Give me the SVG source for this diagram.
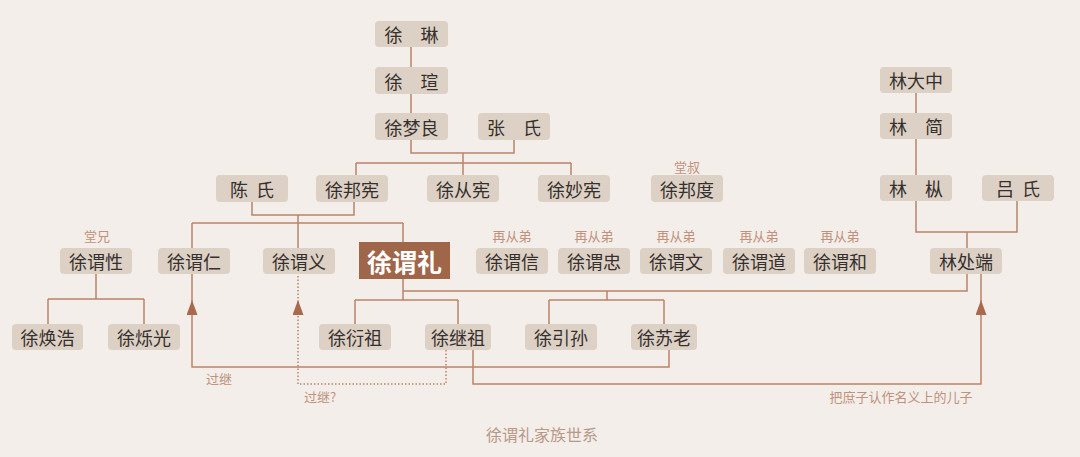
<svg xmlns="http://www.w3.org/2000/svg" width="1080" height="457" viewBox="0 0 1080 457">
<defs>
<style>
.bg{fill:#f3eeea}
.box{fill:#ddd0c5}
.t{font-family:"Noto Sans CJK SC","Noto Sans",sans-serif;font-size:18px;font-weight:normal;fill:#35302d;text-anchor:middle;dominant-baseline:central}
.main{fill:#9f664a}
.tm{font-family:"Noto Sans CJK SC","Noto Sans",sans-serif;font-size:25px;font-weight:bold;fill:#ffffff;text-anchor:middle;dominant-baseline:central}
.lb{font-family:"Noto Sans CJK SC","Noto Sans",sans-serif;font-size:13px;fill:#c1917a;text-anchor:middle;dominant-baseline:central}
.ln{fill:none;stroke:#b9856a;stroke-width:1.5}
.dot{fill:none;stroke:#b9856a;stroke-width:1.5;stroke-dasharray:1.5 2}
.title{font-family:"Noto Sans CJK SC","Noto Sans",sans-serif;font-size:16px;fill:#b89888;text-anchor:middle;dominant-baseline:central}
</style>
<marker id="arr" viewBox="0 0 15 11" refX="15" refY="5.5" markerWidth="15" markerHeight="11" markerUnits="userSpaceOnUse" orient="auto">
<path d="M0 0 L15 5.5 L0 11 Z" fill="#a8694d"/>
</marker>
</defs>
<rect class="bg" x="0" y="0" width="1080" height="457"/>

<g id="connectors">
<path class="ln" d="M411 47V67M411 94V113M411 140V153H514V140M463 153V163M356 163H571M356 163V175M463 163V175M571 163V175"/>
<path class="ln" d="M252 202V215H354V202M298 215V223M192 223H403M192 223V248M298 223V248M403 223V242"/>
<path class="ln" d="M96 274V299M48 299H144M48 299V324M144 299V324"/>
<path class="ln" d="M403 279V300M355 300H458M355 300V324M458 300V324M403 291H967V274M607 291V300M549 300H664M549 300V324M664 300V324"/>
<path class="ln" d="M916 93V113M916 139V175M916 201V232H1017V201M967 232V248"/>
<path class="ln" d="M669 350V367H192V300" marker-end="url(#arr)"/>
<path class="dot" d="M446 350V384H298V300" marker-end="url(#arr)"/>
<path class="ln" d="M473 350V384H981V300" marker-end="url(#arr)"/>
<path class="ln" d="M192 302V274M981 302V274"/>
<path class="dot" d="M298 302V274"/>
</g>

<g id="n-xulin"><rect class="box" x="375" y="21" width="73" height="26" rx="4"/><text class="t" x="411.5" y="34">徐　琳</text></g>
<g id="n-xuxuan"><rect class="box" x="375" y="67" width="73" height="27" rx="4"/><text class="t" x="411.5" y="80.5">徐　瑄</text></g>
<g id="n-xumengliang"><rect class="box" x="375" y="113" width="73" height="27" rx="4"/><text class="t" x="411.5" y="126.5">徐梦良</text></g>
<g id="n-zhangshi"><rect class="box" x="478" y="113" width="72" height="27" rx="4"/><text class="t" x="514" y="126.5">张　氏</text></g>
<g id="n-chenshi"><rect class="box" x="216" y="175" width="72" height="27" rx="4"/><text class="t" x="252" y="188.5" xml:space="preserve">陈  氏</text></g>
<g id="n-xubangxian"><rect class="box" x="316" y="175" width="72" height="27" rx="4"/><text class="t" x="352" y="188.5">徐邦宪</text></g>
<g id="n-xucongxian"><rect class="box" x="427" y="175" width="72" height="27" rx="4"/><text class="t" x="463" y="188.5">徐从宪</text></g>
<g id="n-xumiaoxian"><rect class="box" x="538" y="175" width="72" height="27" rx="4"/><text class="t" x="574" y="188.5">徐妙宪</text></g>
<g id="n-xubangdu"><text class="lb" x="687" y="166">堂叔</text><rect class="box" x="651" y="175" width="72" height="27" rx="4"/><text class="t" x="687" y="188.5">徐邦度</text></g>

<g id="n-xuweixing"><text class="lb" x="97" y="235">堂兄</text><rect class="box" x="60" y="248" width="72" height="26" rx="4"/><text class="t" x="96" y="261">徐谓性</text></g>
<g id="n-xuweiren"><rect class="box" x="158" y="248" width="72" height="26" rx="4"/><text class="t" x="194" y="261">徐谓仁</text></g>
<g id="n-xuweiyi"><rect class="box" x="263" y="248" width="72" height="26" rx="4"/><text class="t" x="299" y="261">徐谓义</text></g>
<g id="n-xuweili"><rect class="main" x="359" y="242" width="91" height="37"/><text class="tm" x="404.5" y="260.5">徐谓礼</text></g>
<g id="n-xuweixin"><text class="lb" x="512" y="235">再从弟</text><rect class="box" x="476" y="248" width="72" height="26" rx="4"/><text class="t" x="512" y="261">徐谓信</text></g>
<g id="n-xuweizhong"><text class="lb" x="594" y="235">再从弟</text><rect class="box" x="558" y="248" width="72" height="26" rx="4"/><text class="t" x="594" y="261">徐谓忠</text></g>
<g id="n-xuweiwen"><text class="lb" x="676" y="235">再从弟</text><rect class="box" x="640" y="248" width="72" height="26" rx="4"/><text class="t" x="676" y="261">徐谓文</text></g>
<g id="n-xuweidao"><text class="lb" x="759" y="235">再从弟</text><rect class="box" x="723" y="248" width="72" height="26" rx="4"/><text class="t" x="759" y="261">徐谓道</text></g>
<g id="n-xuweihe"><text class="lb" x="840" y="235">再从弟</text><rect class="box" x="804" y="248" width="72" height="26" rx="4"/><text class="t" x="840" y="261">徐谓和</text></g>

<g id="n-lindazhong"><rect class="box" x="880" y="67" width="72" height="26" rx="4"/><text class="t" x="916" y="80">林大中</text></g>
<g id="n-linjian"><rect class="box" x="880" y="113" width="72" height="26" rx="4"/><text class="t" x="916" y="126">林　简</text></g>
<g id="n-lincong"><rect class="box" x="880" y="175" width="72" height="26" rx="4"/><text class="t" x="916" y="188">林　枞</text></g>
<g id="n-lvshi"><rect class="box" x="982" y="175" width="72" height="26" rx="4"/><text class="t" x="1018" y="188" xml:space="preserve">吕  氏</text></g>
<g id="n-linchuduan"><rect class="box" x="930" y="248" width="72" height="26" rx="4"/><text class="t" x="966" y="261">林处端</text></g>

<g id="n-xuhuanhao"><rect class="box" x="12" y="324" width="71" height="26" rx="4"/><text class="t" x="47.5" y="337">徐焕浩</text></g>
<g id="n-xushuoguang"><rect class="box" x="108" y="324" width="72" height="26" rx="4"/><text class="t" x="144" y="337">徐烁光</text></g>
<g id="n-xuyanzu"><rect class="box" x="319" y="324" width="72" height="26" rx="4"/><text class="t" x="355" y="337">徐衍祖</text></g>
<g id="n-xujizu"><rect class="box" x="425" y="324" width="66" height="26" rx="4"/><text class="t" x="458" y="337">徐继祖</text></g>
<g id="n-xuyinsun"><rect class="box" x="525" y="324" width="72" height="26" rx="4"/><text class="t" x="561" y="337">徐引孙</text></g>
<g id="n-xusulao"><rect class="box" x="631" y="324" width="66" height="26" rx="4"/><text class="t" x="664" y="337">徐苏老</text></g>

<g id="labels">
<text class="lb" x="219" y="378">过继</text>
<text class="lb" x="320" y="396">过继?</text>
<text class="lb" x="901" y="396">把庶子认作名义上的儿子</text>
<text class="title" x="542" y="434">徐谓礼家族世系</text>
</g>
</svg>
